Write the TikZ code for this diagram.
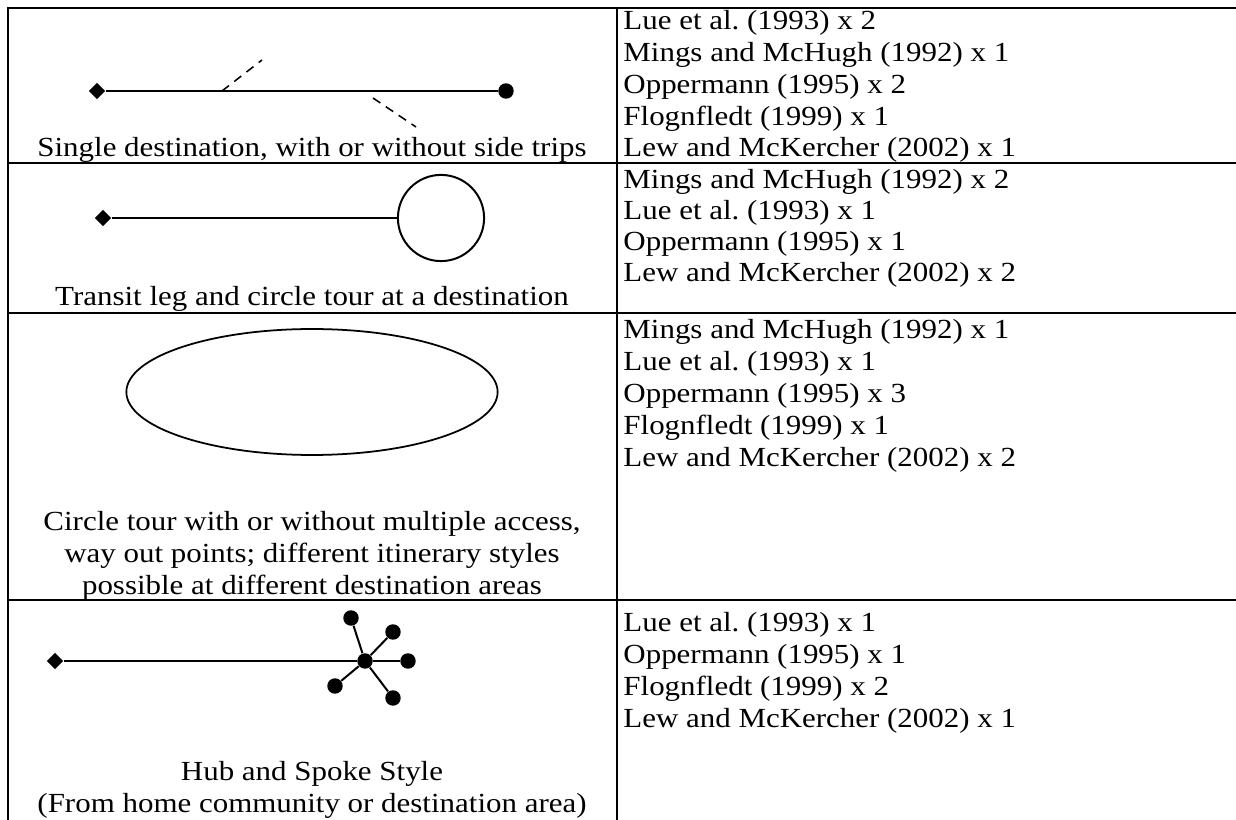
\documentclass[tikz,border=0pt]{standalone}
\usepackage{fontspec}
\usepackage{graphicx}
\setmainfont{Liberation Serif}
\usetikzlibrary{shapes.geometric}
\newcommand{\widetxt}[1]{\scalebox{1.12}[1]{#1}}
\begin{document}
\frenchspacing
\begin{tikzpicture}[x=0.4525pt,y=-0.4525pt,
  grid/.style={line width=1.2pt},
  route/.style={line width=0.9pt},
  side/.style={line width=0.7pt,dash pattern=on 4pt off 3pt},
  origin/.style={diamond,fill=black,inner sep=0pt,minimum size=7.5pt},
  stop/.style={circle,fill=black,inner sep=0pt,minimum size=7pt},
  ref/.style={anchor=base west,inner sep=0pt,font=\fontsize{12.5}{13}\selectfont},
  captxt/.style={anchor=base,inner sep=0pt,font=\fontsize{12.5}{13}\selectfont}]
\useasboundingbox (0,0) rectangle (1236,820);
% table
\draw[grid] (8,820) -- (8,8) -- (1236,8);
\draw[grid] (617,8) -- (617,820);
\draw[grid] (8,163) -- (1236,163);
\draw[grid] (8,313) -- (1236,313);
\draw[grid] (8,600) -- (1236,600);
% row 1
\node[origin] (o1) at (97,91) {};
\node[stop] (d1) at (506,91) {};
\draw[route] (o1) -- (d1);
\coordinate (s1a) at (222,91);
\coordinate (s1b) at (262,60);
\coordinate (s2a) at (373,98);
\coordinate (s2b) at (416,127);
\draw[side] (s1a) -- (s1b);
\draw[side] (s2a) -- (s2b);
\node[captxt] (t1) at (312,157) {\widetxt{Single destination, with or without side trips}};
% row 2
\node[origin] (o2) at (103,218) {};
\node[circle,draw,line width=0.9pt,minimum size=39pt,inner sep=0pt] (c2) at (441,218) {};
\draw[route] (o2) -- (c2);
\node[captxt] (t2) at (312,306) {\widetxt{Transit leg and circle tour at a destination}};
% row 3
\node[ellipse,draw,line width=0.8pt,minimum width=168pt,minimum height=57pt,inner sep=0pt] (e3) at (312,392) {};
\node[captxt] (t3a) at (312,530) {\widetxt{Circle tour with or without multiple access,}};
\node[captxt] (t3b) at (312,562) {\widetxt{way out points; different itinerary styles}};
\node[captxt] (t3c) at (312,594) {\widetxt{possible at different destination areas}};
% row 4
\node[origin] (o4) at (55,661) {};
\node[stop] (h4) at (365,661) {};
\draw[route] (o4) -- (h4);
\node[stop] (p1) at (351,618) {};
\node[stop] (p2) at (393,632) {};
\node[stop] (p3) at (408,661) {};
\node[stop] (p4) at (393,698) {};
\node[stop] (p5) at (335,686) {};
\foreach \p in {p1,p2,p3,p4,p5} \draw[route] (h4) -- (\p);
\node[captxt] (t4a) at (312,780) {\widetxt{Hub and Spoke Style}};
\node[captxt] (t4b) at (312,812) {\widetxt{(From home community or destination area)}};
% references
\node[ref] (r11) at (623,30) {\widetxt{Lue et al. (1993) x 2}};
\node[ref] (r12) at (623,62) {\widetxt{Mings and McHugh (1992) x 1}};
\node[ref] (r13) at (623,94) {\widetxt{Oppermann (1995) x 2}};
\node[ref] (r14) at (623,126) {\widetxt{Flognfledt (1999) x 1}};
\node[ref] (r15) at (623,157) {\widetxt{Lew and McKercher (2002) x 1}};
\node[ref] (r21) at (623,189) {\widetxt{Mings and McHugh (1992) x 2}};
\node[ref] (r22) at (623,220) {\widetxt{Lue et al. (1993) x 1}};
\node[ref] (r23) at (623,251) {\widetxt{Oppermann (1995) x 1}};
\node[ref] (r24) at (623,282) {\widetxt{Lew and McKercher (2002) x 2}};
\node[ref] (r31) at (623,339) {\widetxt{Mings and McHugh (1992) x 1}};
\node[ref] (r32) at (623,371) {\widetxt{Lue et al. (1993) x 1}};
\node[ref] (r33) at (623,403) {\widetxt{Oppermann (1995) x 3}};
\node[ref] (r34) at (623,435) {\widetxt{Flognfledt (1999) x 1}};
\node[ref] (r35) at (623,467) {\widetxt{Lew and McKercher (2002) x 2}};
\node[ref] (r41) at (623,631) {\widetxt{Lue et al. (1993) x 1}};
\node[ref] (r42) at (623,663) {\widetxt{Oppermann (1995) x 1}};
\node[ref] (r43) at (623,695) {\widetxt{Flognfledt (1999) x 2}};
\node[ref] (r44) at (623,727) {\widetxt{Lew and McKercher (2002) x 1}};
\end{tikzpicture}
\end{document}
